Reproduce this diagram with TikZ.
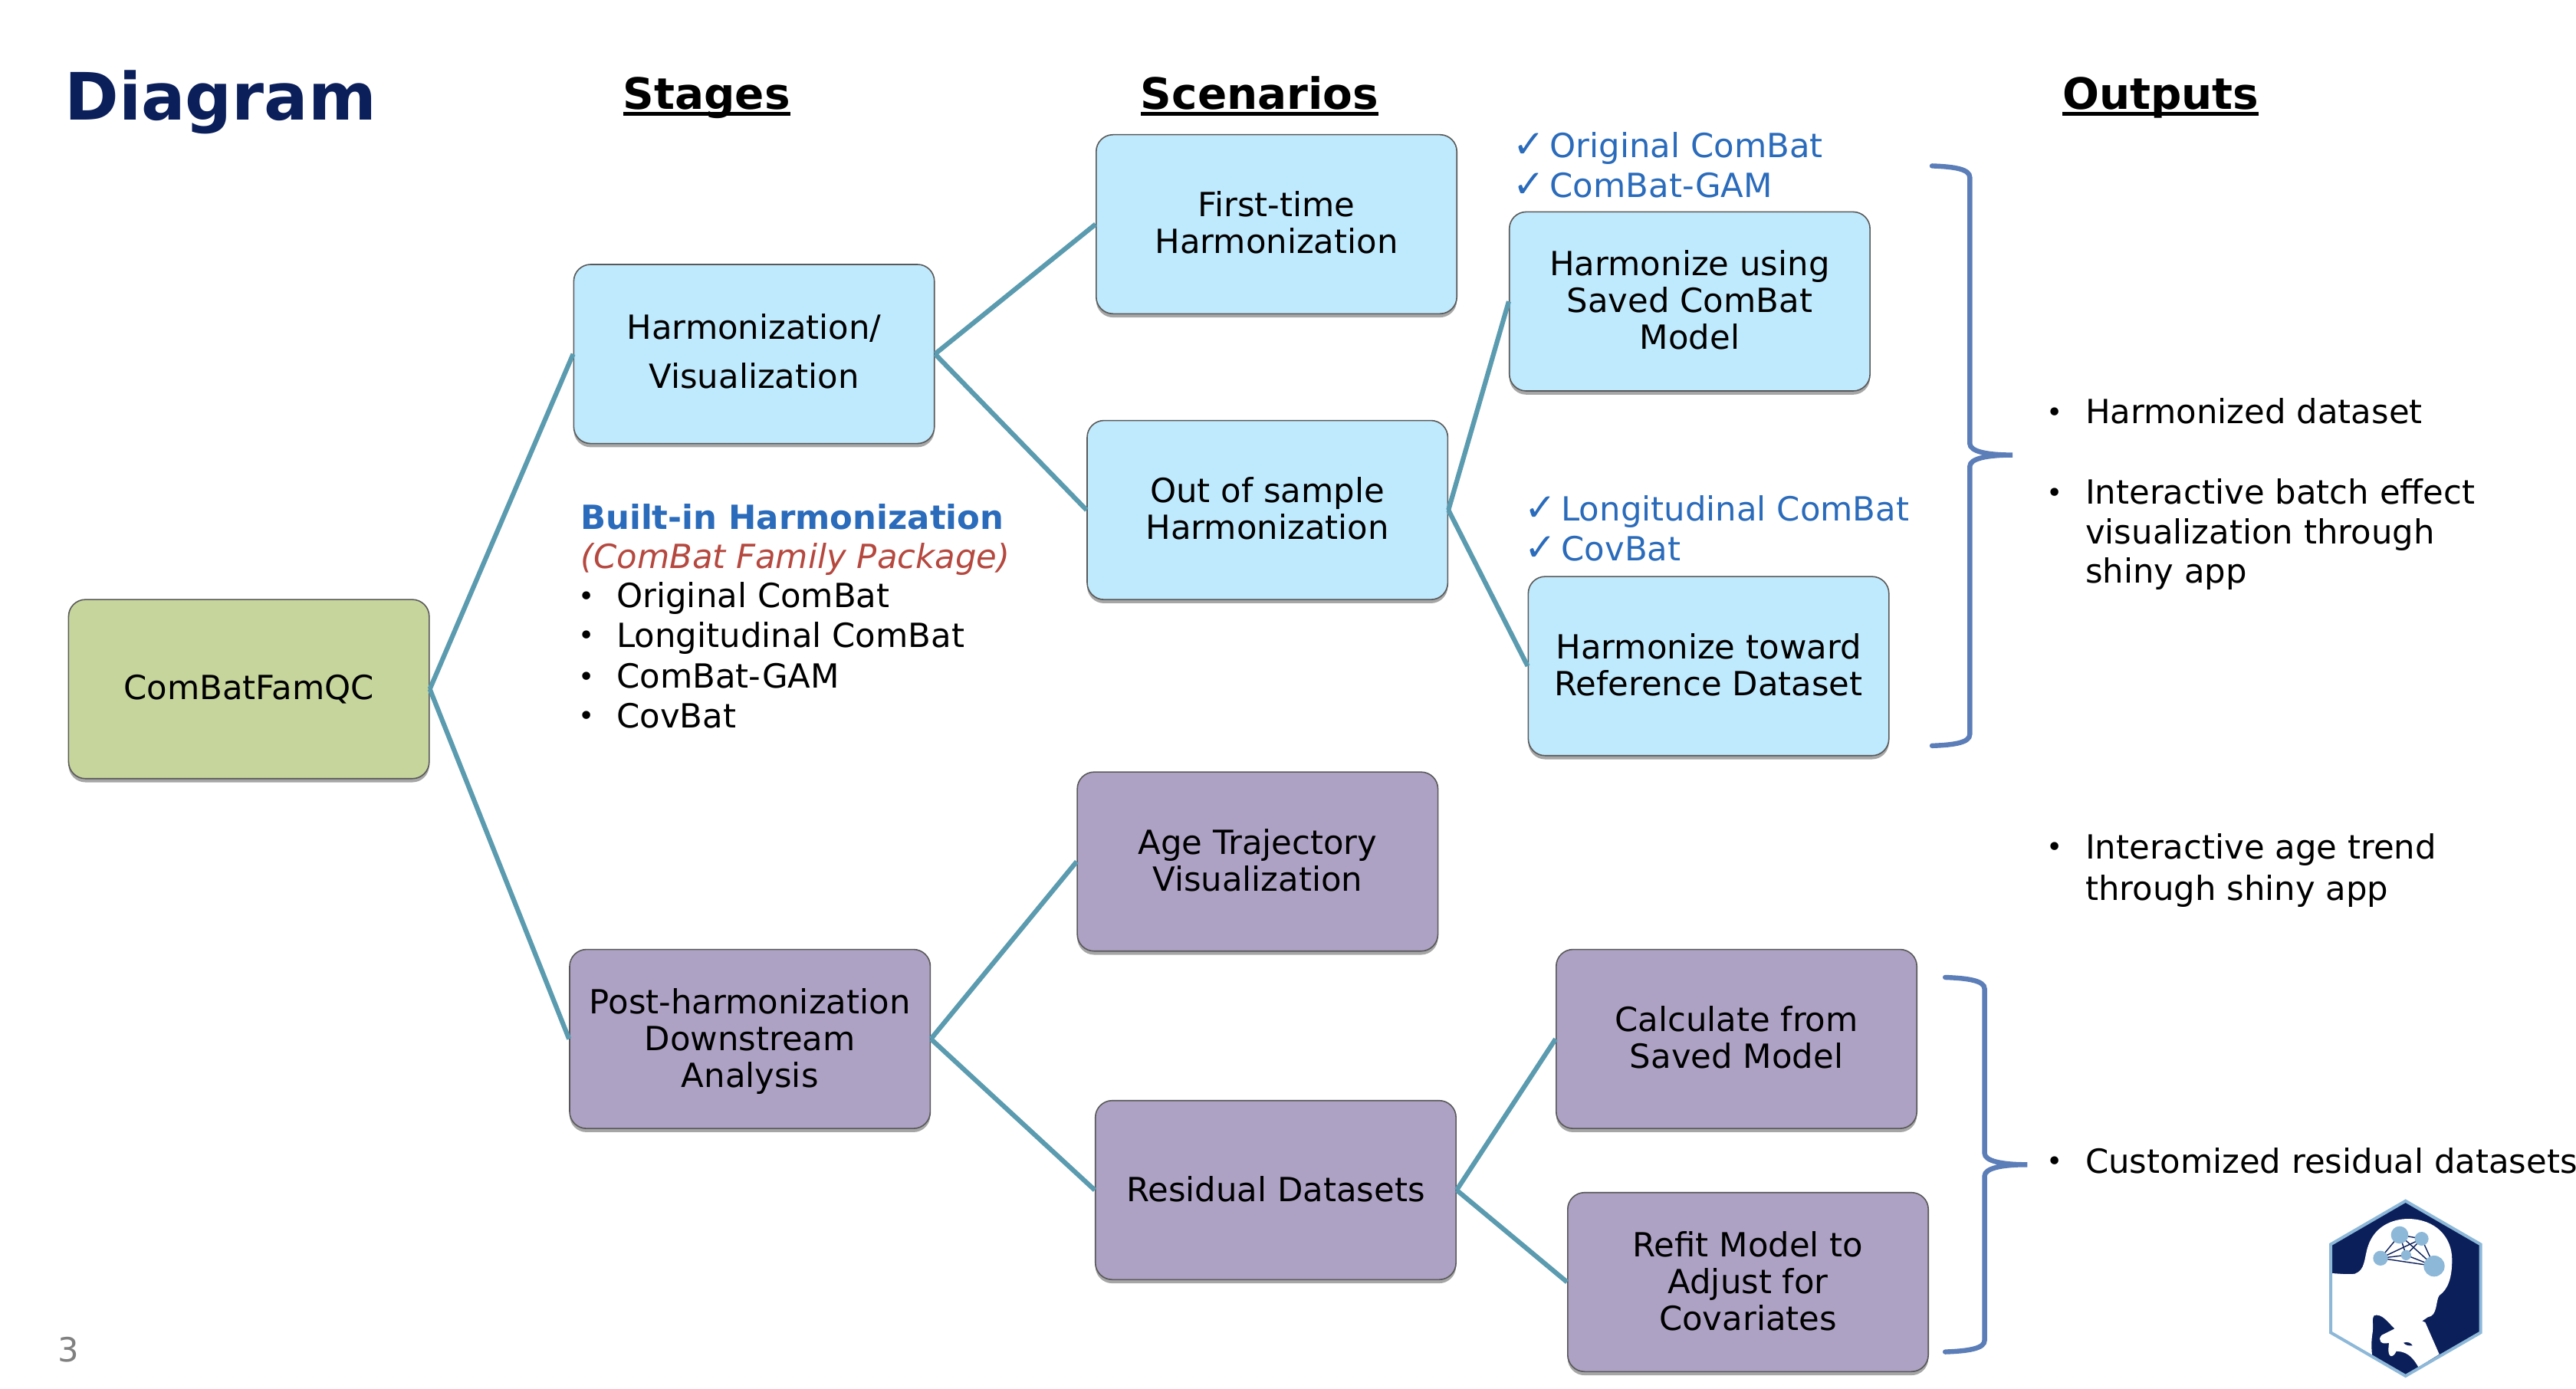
\documentclass[tikz,border=0pt]{standalone}
\usepackage{fontspec}
\setmainfont{DejaVu Sans}
\usetikzlibrary{shadows}
\definecolor{boxblue}{HTML}{BFE9FC}
\definecolor{boxgreen}{HTML}{C6D59C}
\definecolor{boxpurple}{HTML}{ADA2C4}
\definecolor{linkteal}{HTML}{5B9BB0}
\definecolor{bracecol}{HTML}{5B7DB8}
\definecolor{navy}{HTML}{0B1F5B}
\definecolor{logoblue}{HTML}{8DB8D8}
\definecolor{textblue}{HTML}{2A6BBB}
\definecolor{textred}{HTML}{B5483F}
\newcommand{\ulhead}[1]{\setbox0\hbox{#1}\rlap{\rule[-2.2pt]{\wd0}{1.35pt}}\box0}
\newcommand{\bodyfont}{\fontsize{10.85}{12}\selectfont}
\newcommand{\upx}{\rule[-1pt]{0pt}{1pt}}
\newcommand{\smallbullet}{\raisebox{0.7pt}{\fontsize{9}{9}\selectfont •}}
\tikzset{
  x=0.53571pt,y=-0.53571pt,
  boxbase/.style={draw=black!65,line width=0.4pt,rounded corners=5.5pt,minimum width=117.6pt,minimum height=58.4pt,align=center,inner sep=0pt,
    drop shadow={shadow xshift=0pt,shadow yshift=-1.2pt,opacity=0.35,fill=black},font=\bodyfont},
  bluebox/.style={boxbase,fill=boxblue},
  greenbox/.style={boxbase,fill=boxgreen},
  purplebox/.style={boxbase,fill=boxpurple},
  link/.style={draw=linkteal,line width=1.55pt},
  bracket/.style={draw=bracecol,line width=1.6pt,line cap=round},
  body/.style={anchor=base west,inner sep=0pt,font=\bodyfont},
  head/.style={anchor=base west,inner sep=0pt,font=\fontsize{14.1}{16}\selectfont\bfseries},
}
\begin{document}
\begin{tikzpicture}
\useasboundingbox (0,0) rectangle (1568,845.6);
\node[greenbox] (root) at (151.5,419.5) {ComBatFamQC};
\node[bluebox] (harm) at (459,215.5) {Harmonization/\\[4pt]Visualization\rule[-2pt]{0pt}{1pt}};
\node[purplebox] (post) at (456.5,632.5) {\rule{0pt}{10pt}Post-harmonization\\Downstream\\Analysis};
\node[bluebox] (first) at (777,136.5) {First-time\\Harmonization\upx};
\node[bluebox] (out) at (771.5,310.5) {Out of sample\\Harmonization\upx};
\node[purplebox] (age) at (765.5,524.5) {Age Trajectory\\Visualization\upx};
\node[purplebox] (resid) at (776.5,724.5) {Residual Datasets\upx};
\node[bluebox] (saved) at (1028.5,183.5) {Harmonize using\\Saved ComBat\\Model\upx};
\node[bluebox] (toward) at (1040,405.5) {Harmonize toward\\Reference Dataset\upx};
\node[purplebox] (calc) at (1057,632.5) {Calculate from\\Saved Model\upx};
\node[purplebox] (refit) at (1064,780.5) {Refit Model to\\Adjust for\\Covariates\upx};
\draw[link] (root.east) -- (harm.west);
\draw[link] (root.east) -- (post.west);
\draw[link] (harm.east) -- (first.west);
\draw[link] (harm.east) -- (out.west);
\draw[link] (out.east) -- (saved.west);
\draw[link] (out.east) -- (toward.west);
\draw[link] (post.east) -- (age.west);
\draw[link] (post.east) -- (resid.west);
\draw[link] (resid.east) -- (calc.west);
\draw[link] (resid.east) -- (refit.west);
% headings
\node[anchor=base west,inner sep=0pt,text=navy,font=\fontsize{21.3}{24}\selectfont\bfseries] (title) at (39,73) {Diagram};
\node[head] (hstages) at (379,66.5) {\ulhead{Stages}};
\node[head] (hscen) at (694,66.5) {\ulhead{Scenarios}};
\node[head] (houts) at (1255,66.5) {\ulhead{Outputs}};
\node[anchor=base west,inner sep=0pt,text=black!50,font=\bodyfont] (pageno) at (35,829) {3};
% built-in list
\node[body,text=textblue,font=\bodyfont\bfseries] (bi) at (353,322) {Built-in Harmonization};
\node[body,text=textred,font=\bodyfont\itshape] (fam) at (353,346) {(ComBat Family Package)};
\foreach \nm/\yy/\tx in {a/370/Original ComBat,b/394/Longitudinal ComBat,c/419/ComBat-GAM,d/443/CovBat}{
  \node[body] (bl\nm) at (351.5,\yy) {\smallbullet};
  \node[body] (li\nm) at (375,\yy) {\tx};
}
% check lists
\foreach \nm/\xa/\xb/\yy/\tx in {a/920.5/943/96/Original ComBat,b/920.5/943/120/ComBat-GAM,c/927.5/950/317/Longitudinal ComBat,d/927.5/950/341.5/CovBat}{
  \node[body,text=textblue,font=\fontsize{12.5}{13}\selectfont] (ck\nm) at (\xa,\yy) {✓};
  \node[body,text=textblue] (ct\nm) at (\xb,\yy) {\tx};
}
% outputs
\foreach \nm/\yy/\tx in {a/258/Harmonized dataset,b/307/Interactive batch effect,e/523/Interactive age trend,g/714/Customized residual datasets}{
  \node[body] (ob\nm) at (1245.5,\yy) {\smallbullet};
  \node[body] (ot\nm) at (1269,\yy) {\tx};
}
\node[body] (otc) at (1269,331) {visualization through};
\node[body] (otd) at (1269,355) {shiny app};
\node[body] (otf) at (1269,548) {through shiny app};
% braces
\coordinate (b1a) at (1176,101);
\coordinate (b1tip) at (1225,277);
\coordinate (b1z) at (1176,454);
\coordinate (b2a) at (1184,595);
\coordinate (b2tip) at (1234,709);
\coordinate (b2z) at (1184,823);
\draw[bracket] (b1a) .. controls (1190,101.5) and (1199,103) .. (1199,108) -- (1199,270) .. controls (1199,275) and (1210,277) .. (b1tip)
  .. controls (1210,277) and (1199,279) .. (1199,284) -- (1199,447) .. controls (1199,452) and (1190,453.5) .. (b1z);
\draw[bracket] (b2a) .. controls (1198,595.5) and (1208,597) .. (1208,602) -- (1208,702) .. controls (1208,707) and (1219,709) .. (b2tip)
  .. controls (1219,709) and (1208,711) .. (1208,716) -- (1208,816) .. controls (1208,821) and (1198,822.5) .. (b2z);
% logo
\begin{scope}[shift={(1381.33,700)},x=0.08333pt,y=-0.08333pt]
  \fill[navy] (533,200)--(827,370)--(827,715)--(533,885)--(240,715)--(240,370)--cycle;
  \fill[white] (243,483) .. controls (280,485) and (310,489) .. (335,485)
    .. controls (375,470) and (370,430) .. (385,380)
    .. controls (410,300) and (480,270) .. (545,270)
    .. controls (650,272) and (715,340) .. (715,430)
    .. controls (715,500) and (700,545) .. (665,570)
    .. controls (650,590) and (660,650) .. (620,655)
    -- (598,670) -- (610,675) -- (665,800) -- (583,850)
    .. controls (555,800) and (530,790) .. (497,788)
    .. controls (485,815) and (465,815) .. (466,780)
    -- (468,755) .. controls (440,765) and (420,745) .. (440,725)
    -- (490,700) .. controls (460,670) and (440,640) .. (410,648)
    .. controls (400,660) and (408,680) .. (404,715)
    .. controls (398,750) and (400,780) .. (402,803)
    -- (240,712) -- cycle;
  \fill[navy] (525,755) .. controls (540,750) and (555,755) .. (560,766) .. controls (545,768) and (532,764) .. (525,755) -- cycle;
  \draw[logoblue,line width=1pt] (533,200)--(827,370)--(827,715)--(533,885)--(240,715)--(240,370)--cycle;
  \coordinate (n1) at (510,333);
  \coordinate (n2) at (596,348);
  \coordinate (n3) at (435,424);
  \coordinate (n4) at (535,412);
  \coordinate (n5) at (645,455);
  \foreach \p/\q in {n1/n2,n1/n3,n1/n4,n1/n5,n2/n3,n2/n4,n2/n5,n3/n4,n3/n5,n4/n5}{
    \draw[navy,line width=0.35pt] (\p) -- (\q);
  }
  \fill[logoblue] (n1) circle[radius=34];
  \fill[logoblue] (n2) circle[radius=27];
  \fill[logoblue] (n3) circle[radius=29];
  \fill[logoblue] (n4) circle[radius=20];
  \fill[logoblue] (n5) circle[radius=41];
\end{scope}
\end{tikzpicture}
\end{document}
